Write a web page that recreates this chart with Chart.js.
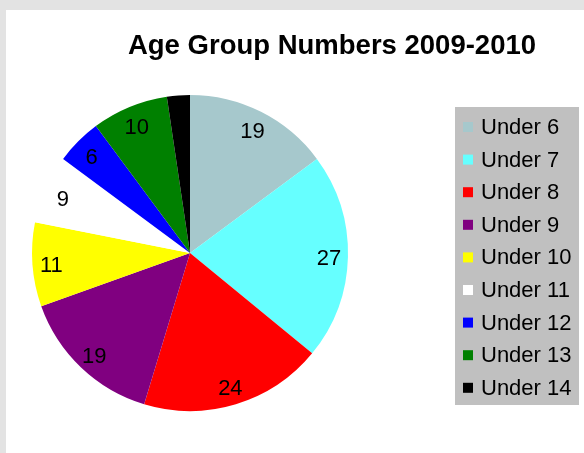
<!DOCTYPE html>
<html>
<head>
<meta charset="utf-8">
<script src="https://cdn.jsdelivr.net/npm/chart.js@4"></script>
<style>
  html, body { margin: 0; padding: 0; }
  body { width: 584px; height: 453px; background: #e3e3e3; position: relative; overflow: hidden; }
  #panel { position: absolute; left: 6px; top: 10px; width: 578px; height: 443px; background: #ffffff; }
  #c { position: absolute; left: 0; top: 0; }
</style>
</head>
<body>
<div id="panel"></div>
<canvas id="c" width="584" height="453"></canvas>
<script>
const title = "Age Group Numbers 2009-2010";
const categories = ["Under 6", "Under 7", "Under 8", "Under 9", "Under 10", "Under 11", "Under 12", "Under 13", "Under 14"];
const counts = [19, 27, 24, 19, 11, 9, 6, 10, 3];
const showLabel = [true, true, true, true, true, true, true, true, false];
const colors = ["#a6c8cc", "#66ffff", "#ff0000", "#800080", "#ffff00", "#ffffff", "#0000ff", "#008000", "#000000"];

const FONT = "'Liberation Sans', Arial, sans-serif";

const decor = {
  id: 'decor',
  afterDatasetsDraw(chart) {
    const ctx = chart.ctx;
    const meta = chart.getDatasetMeta(0);
    ctx.save();
    // slice labels
    ctx.font = "22px " + FONT;
    ctx.fillStyle = "#000";
    ctx.textAlign = "center";
    ctx.textBaseline = "middle";
    meta.data.forEach((arc, i) => {
      if (!showLabel[i]) return;
      const p = arc.getProps(['x', 'y', 'startAngle', 'endAngle', 'outerRadius'], true);
      const mid = (p.startAngle + p.endAngle) / 2;
      const r = p.outerRadius * 0.88;
      ctx.fillText(String(counts[i]), p.x + Math.cos(mid) * r, p.y + Math.sin(mid) * r + 3);
    });
    // title
    ctx.font = "bold 27.5px " + FONT;
    ctx.textAlign = "center";
    ctx.textBaseline = "alphabetic";
    ctx.fillText(title, 332, 54);
    // legend
    const lx = 455, ly = 107, lw = 124, lh = 298;
    ctx.fillStyle = "#c0c0c0";
    ctx.fillRect(lx, ly, lw, lh);
    ctx.font = "22px " + FONT;
    ctx.textAlign = "left";
    ctx.textBaseline = "middle";
    const step = 32.6;
    categories.forEach((c, i) => {
      const cy = 127 + i * step;
      ctx.fillStyle = colors[i];
      ctx.fillRect(463, cy - 5, 10, 10);
      ctx.fillStyle = "#000";
      ctx.fillText(c, 481, cy + 1);
    });
    ctx.restore();
  }
};

new Chart(document.getElementById('c'), {
  type: 'pie',
  data: {
    labels: categories,
    datasets: [{
      data: counts,
      backgroundColor: colors,
      borderWidth: 0,
      hoverOffset: 0
    }]
  },
  options: {
    responsive: false,
    animation: false,
    events: [],
    layout: { padding: { left: 32, right: 236, top: 95, bottom: 42 } },
    plugins: {
      legend: { display: false },
      tooltip: { enabled: false },
      title: { display: false }
    }
  },
  plugins: [decor]
});
</script>
</body>
</html>
